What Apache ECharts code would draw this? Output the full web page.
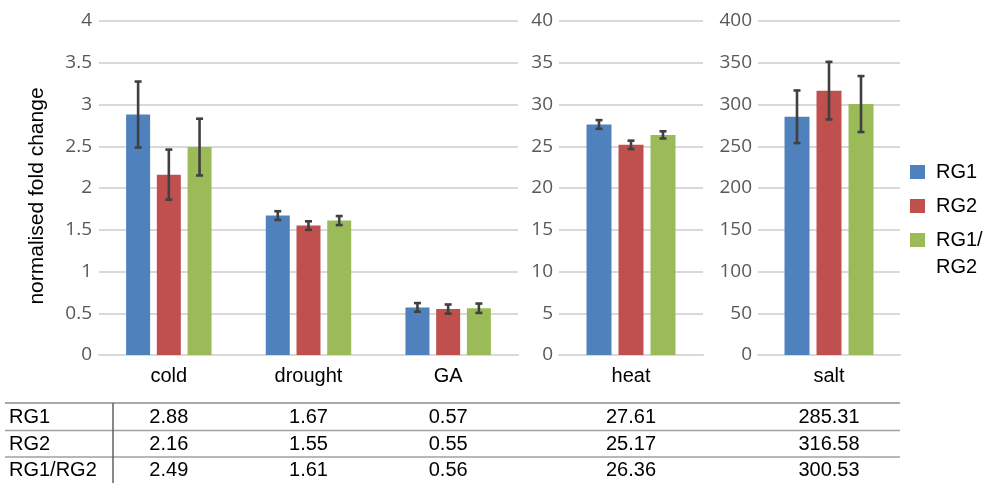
<!DOCTYPE html>
<html>
<head>
<meta charset="utf-8">
<script src="https://cdn.jsdelivr.net/npm/echarts@6/dist/echarts.min.js"></script>
<style>html,body{margin:0;padding:0;background:#fff}#c{width:995px;height:483px}</style>
</head>
<body>
<div id="c"></div>
<script>
// ---- data ----
var categories = ['cold', 'drought', 'GA', 'heat', 'salt'];
var seriesNames = ['RG1', 'RG2', 'RG1/RG2'];
var rg1 = [2.88, 1.67, 0.57, 27.61, 285.31];
var rg2 = [2.16, 1.55, 0.55, 25.17, 316.58];
var rg1rg2 = [2.49, 1.61, 0.56, 26.36, 300.53];
var err1 = [0.395, 0.052, 0.052, 0.52, 31.5];
var err2 = [0.30, 0.051, 0.055, 0.50, 34.5];
var err3 = [0.34, 0.054, 0.056, 0.43, 33.5];
var panelCats = [[0, 1, 2], [3], [4]];
var yMax = [4, 40, 400];
var yStep = [0.5, 5, 50];

var colors = ['#4f81bd', '#c0504d', '#9bbb59'];
var values = [rg1, rg2, rg1rg2];
var errs = [err1, err2, err3];

var grids = [
  {left: 99, top: 21, width: 419, height: 334},
  {left: 559, top: 21, width: 144, height: 334},
  {left: 758, top: 21, width: 142, height: 334}
];
var barW = [24, 25, 25];
var gapRatio = 0.28;
var tickFont = '"Open Sans", "Noto Sans", sans-serif';
var arial = '"Liberation Sans", Arial, sans-serif';

var xAxes = [], yAxes = [], series = [];
panelCats.forEach(function (idxs, g) {
  xAxes.push({
    type: 'category', gridIndex: g,
    data: idxs.map(function (i) { return categories[i]; }),
    axisLine: {lineStyle: {color: '#d9d9d9', width: 2}},
    axisTick: {show: false},
    axisLabel: {color: '#000', fontSize: 20, fontFamily: arial, margin: 11}
  });
  yAxes.push({
    type: 'value', gridIndex: g, min: 0, max: yMax[g], interval: yStep[g],
    axisLine: {show: false}, axisTick: {show: false},
    splitLine: {lineStyle: {color: '#d9d9d9', width: 2}},
    axisLabel: {color: '#595959', fontSize: 19, fontFamily: tickFont, margin: g === 0 ? 7 : 6}
  });
  for (var s = 0; s < 3; s++) {
    series.push({
      type: 'bar', name: seriesNames[s], xAxisIndex: g, yAxisIndex: g,
      barWidth: barW[g], barGap: (gapRatio * 100) + '%',
      itemStyle: {color: colors[s]},
      data: idxs.map(function (i) { return values[s][i]; }),
      z: 2
    });
  }
  var errData = [];
  idxs.forEach(function (i, k) {
    for (var s2 = 0; s2 < 3; s2++) errData.push([k, values[s2][i], errs[s2][i], s2]);
  });
  (function (gi) {
    series.push({
      type: 'custom', xAxisIndex: gi, yAxisIndex: gi, z: 5, silent: true,
      encode: {x: 0, y: 1},
      data: errData,
      renderItem: function (params, api) {
        var cat = api.value(0), v = api.value(1), e = api.value(2), si = api.value(3);
        var bw = barW[gi], gap = bw * gapRatio;
        var total = 3 * bw + 2 * gap;
        var off = -total / 2 + bw / 2 + si * (bw + gap);
        var t = api.coord([cat, v + e]);
        var b = api.coord([cat, v - e]);
        var x = t[0] + off;
        var st = {stroke: '#404040', lineWidth: 2.6};
        return {type: 'group', children: [
          {type: 'line', shape: {x1: x, y1: t[1], x2: x, y2: b[1]}, style: st},
          {type: 'line', shape: {x1: x - 3.5, y1: t[1], x2: x + 3.5, y2: t[1]}, style: st},
          {type: 'line', shape: {x1: x - 3.5, y1: b[1], x2: x + 3.5, y2: b[1]}, style: st}
        ]};
      }
    });
  })(g);
});

var chart = echarts.init(document.getElementById('c'));
chart.setOption({
  animation: false,
  grid: grids,
  xAxis: xAxes,
  yAxis: yAxes,
  legend: {
    orient: 'vertical', left: 910, top: 162, padding: 0,
    itemWidth: 15, itemHeight: 14, itemGap: 14,
    data: seriesNames,
    icon: 'rect',
    formatter: function (n) { return n === 'RG1/RG2' ? 'RG1/' : n; },
    textStyle: {fontSize: 20, fontFamily: arial, color: '#000', lineHeight: 20, padding: [0, 0, 0, 6]}
  },
  series: series
});

// ---- data table + extra texts ----
var gfx = [];
gfx.push({type: 'text', x: 37, y: 196, rotation: Math.PI / 2,
  style: {text: 'normalised fold change', font: '21px ' + arial, fill: '#000', align: 'center', verticalAlign: 'middle'}});
gfx.push({type: 'text', x: 936, y: 267,
  style: {text: 'RG2', font: '20px ' + arial, fill: '#000', align: 'left', verticalAlign: 'middle'}});
var rowY = [417, 444, 470];
var lineY = [403, 430.5, 457];
lineY.forEach(function (y, i) {
  gfx.push({type: 'line', shape: {x1: 5, y1: y, x2: 900, y2: y},
    style: {stroke: i === 0 ? '#8c8c8c' : '#a0a0a0', lineWidth: 1.5}});
});
gfx.push({type: 'line', shape: {x1: 113, y1: 403, x2: 113, y2: 483}, style: {stroke: '#606060', lineWidth: 1.5}});
seriesNames.forEach(function (n, r) {
  gfx.push({type: 'text', x: 9, y: rowY[r], style: {text: n, font: '20px ' + arial, fill: '#000', align: 'left', verticalAlign: 'middle'}});
});
panelCats.forEach(function (idxs, g) {
  idxs.forEach(function (i) {
    var px = chart.convertToPixel({xAxisIndex: g}, categories[i]);
    for (var r = 0; r < 3; r++) {
      gfx.push({type: 'text', x: px, y: rowY[r],
        style: {text: values[r][i].toFixed(2), font: '20px ' + arial, fill: '#000', align: 'center', verticalAlign: 'middle'}});
    }
  });
});
chart.setOption({graphic: gfx});
</script>
</body>
</html>
